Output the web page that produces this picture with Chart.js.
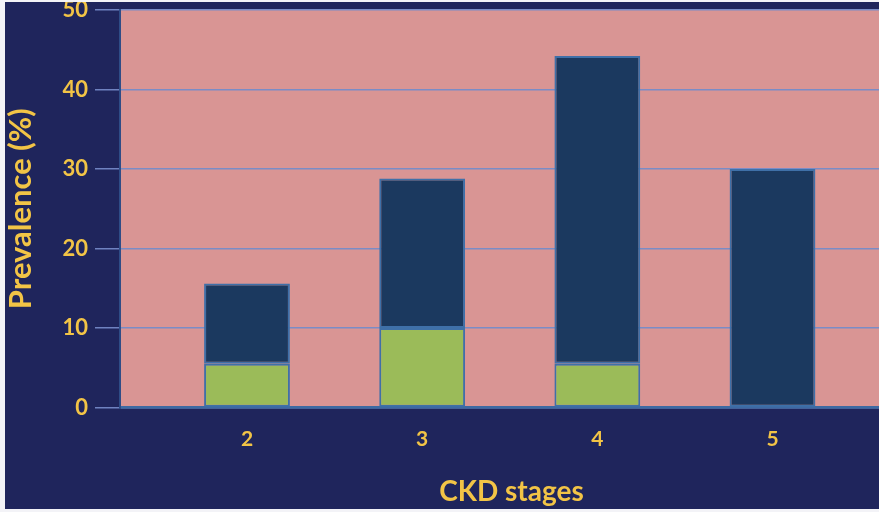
<!DOCTYPE html>
<html>
<head>
<meta charset="utf-8">
<script src="https://cdn.jsdelivr.net/npm/chart.js@4.4.1/dist/chart.umd.min.js"></script>
<style>
  html, body { margin: 0; padding: 0; width: 879px; height: 512px; overflow: hidden; background: #f3f3f7; }
  #frame { position: absolute; left: 5px; top: 2px; width: 898px; height: 507px; background: #1f255c; }
</style>
</head>
<body>
<div id="frame"><canvas id="c" width="898" height="507"></canvas></div>
<script>
// CKD stage on the x axis, prevalence (%) stacked on the y axis
const stages = [2, 3, 4, 5];
const lowerSegment = [5.5, 10, 5.5, 0];      // green part of each bar
const upperSegment = [10.1, 18.8, 38.7, 30]; // navy part stacked on top
const yTickValues = [0, 10, 20, 30, 40, 50];

const YELLOW = '#f2c446';
const FONT = 'Lato, "Open Sans", sans-serif';

// pink plot background behind the bars
const plotFill = {
  id: 'plotFill',
  beforeDraw(chart) {
    const { ctx, chartArea: a } = chart;
    ctx.save();
    ctx.fillStyle = '#d99594';
    ctx.fillRect(a.left, a.top, a.right - a.left, a.bottom - a.top);
    ctx.restore();
  }
};

const toPoints = arr => stages.map((s, i) => ({ x: s, y: arr[i] }));

new Chart(document.getElementById('c'), {
  type: 'bar',
  data: {
    datasets: [
      {
        data: toPoints(lowerSegment),
        backgroundColor: '#9bbb59',
        borderColor: '#3f70a8',
        borderWidth: 2,
        borderSkipped: false,
        categoryPercentage: 1,
        barPercentage: 0.49
      },
      {
        data: toPoints(upperSegment),
        backgroundColor: '#1b395f',
        borderColor: '#3f70a8',
        borderWidth: 2,
        borderSkipped: false,
        categoryPercentage: 1,
        barPercentage: 0.49
      }
    ]
  },
  options: {
    responsive: false,
    animation: false,
    layout: { padding: { top: 8, left: 0, right: 0, bottom: 0 } },
    plugins: { legend: { display: false }, tooltip: { enabled: false } },
    scales: {
      x: {
        type: 'linear',
        stacked: true,
        offset: false,
        min: 1.275,
        max: 5.745,
        grid: { display: false, offset: false },
        border: { display: true, color: '#3d6aa3', width: 2.5 },
        ticks: {
          color: YELLOW,
          font: { family: FONT, size: 21, weight: 'bold' },
          padding: 11
        },
        afterBuildTicks: s => { s.ticks = stages.map(v => ({ value: v })); },
        afterFit: s => { s.height = 101.5; s.paddingLeft = 0; s.paddingRight = 0; },
        title: {
          display: true,
          text: 'CKD stages',
          color: YELLOW,
          font: { family: FONT, size: 28, weight: 'bold' },
          padding: { top: 0, bottom: 0 }
        }
      },
      y: {
        stacked: true,
        min: 0,
        max: 50,
        grid: {
          color: '#7a8cc6',
          lineWidth: 1.5,
          tickLength: 25,
          tickColor: '#6f82c0'
        },
        border: { display: true, color: '#2e4c86', width: 2 },
        ticks: {
          color: YELLOW,
          font: { family: FONT, size: 22, weight: 'bold' },
          padding: 7
        },
        afterBuildTicks: s => { s.ticks = yTickValues.map(v => ({ value: v })); },
        afterFit: s => { s.width = 115; s.paddingTop = 0; s.paddingBottom = 0; },
        title: {
          display: true,
          text: 'Prevalence (%)',
          color: YELLOW,
          font: { family: FONT, size: 31, weight: 'bold', lineHeight: 1 },
          padding: { top: 0, bottom: 0 }
        }
      }
    }
  },
  plugins: [plotFill]
});
</script>
</body>
</html>
